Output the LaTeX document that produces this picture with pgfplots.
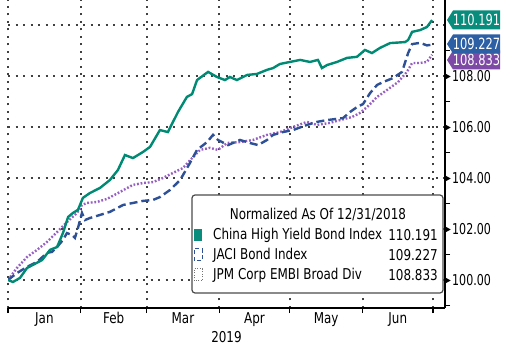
\documentclass[border=0pt]{standalone}
\usepackage{fontspec}
\setmainfont{DejaVu Sans}[FakeStretch=0.8]
\newfontfamily\tickfont{DejaVu Sans}[FakeStretch=0.74]
\usepackage{pgfplots}
\pgfplotsset{compat=1.18}
\definecolor{cteal}{RGB}{0,138,116}
\definecolor{cblue}{RGB}{45,80,150}
\definecolor{cpurp}{RGB}{150,95,195}
\definecolor{tteal}{RGB}{10,140,125}
\definecolor{tblue}{RGB}{45,95,165}
\definecolor{tpurp}{RGB}{125,75,165}
\newcommand{\tri}{\tikz[baseline=-0.6ex]\fill (0,-3bp)--(5.5bp,0)--(0,3bp)--cycle;}
\newcommand{\tagbox}[3]{%
  \fill[#1] (439,#2) -- (445,{#2+9.5}) -- (492,{#2+9.5}) -- (492,{#2-9.5}) -- (445,{#2-9.5}) -- cycle;
  \node[white, inner sep=0pt, font=\tickfont\fontsize{15.5}{17}\selectfont] at (468.5,#2) {#3};}

\pgfplotstableread{
x y
0 100.00
2.1 99.92
5.1 100.08
8.1 100.47
10.6 100.59
14.5 100.78
17.9 101.18
20.9 101.29
23.4 101.84
25.6 102.47
27.7 102.63
29.8 102.75
31.9 103.22
34.9 103.41
39.2 103.61
43.4 103.92
46.8 104.31
49.8 104.90
53.2 104.78
57.5 105.02
60.5 105.22
64.7 105.88
68.1 105.80
72.4 106.59
76.2 107.18
78.4 107.29
80.5 107.84
85.2 108.16
89.0 107.96
92.4 107.84
94.5 107.96
97.5 107.84
101.8 108.04
106.0 108.08
110.3 108.24
112.9 108.31
115.8 108.47
120.1 108.55
124.4 108.63
128.6 108.55
132.0 108.63
133.7 108.31
135.9 108.43
140.1 108.55
144.4 108.71
148.6 108.75
152.0 109.02
155.0 108.90
158.4 109.10
162.7 109.29
169.1 109.33
170.4 109.41
172.1 109.73
175.5 109.80
178.4 109.92
180.6 110.191
}\chinahy

\pgfplotstableread{
x y
0 100.00
3.8 100.27
8.1 100.51
12.4 100.71
16.6 101.06
18.7 101.10
20.9 101.29
23.4 101.57
25.1 101.84
27.3 101.76
28.5 101.65
29.8 102.04
31.5 102.63
32.8 102.35
34.9 102.43
39.2 102.55
43.4 102.67
49.0 102.94
53.2 103.02
57.5 103.10
61.8 103.14
64.7 103.25
69.0 103.53
73.3 103.92
77.5 104.59
80.5 105.10
84.8 105.41
87.3 105.69
89.4 105.49
93.7 105.29
98.8 105.49
103.1 105.37
106.5 105.29
110.3 105.49
112.9 105.69
117.1 105.80
121.4 105.88
127.3 106.08
131.6 106.20
135.9 106.27
142.7 106.35
145.7 106.59
148.6 106.78
151.2 106.90
154.2 107.33
157.2 107.65
159.7 107.76
164.0 107.92
167.8 108.16
170.4 108.90
172.1 109.25
175.5 109.30
178.4 109.20
180.6 109.227
}\jaci

\pgfplotstableread{
x y
0 100.00
3.8 100.47
8.1 100.90
12.4 101.18
16.6 101.49
20.9 101.88
25.1 102.27
29.4 102.63
31.5 102.94
33.6 103.02
37.9 103.06
42.2 103.18
47.7 103.45
53.2 103.73
57.5 103.80
61.8 103.84
66.0 104.00
70.3 104.20
74.5 104.39
78.8 104.82
81.8 105.10
86.0 105.18
89.4 105.10
93.3 105.37
98.8 105.41
104.3 105.49
110.3 105.69
115.8 105.80
121.4 106.00
127.3 106.20
131.6 106.08
137.1 106.16
141.4 106.27
146.5 106.39
149.9 106.55
152.9 106.78
157.2 107.18
161.4 107.45
166.1 107.76
169.9 108.16
172.1 108.51
175.5 108.51
178.4 108.55
180.6 108.833
}\jpm

\begin{document}
\begin{tikzpicture}[font=\fontsize{15}{17}\selectfont]
\begin{axis}[
  scale only axis, width=437bp, height=308bp,
  xmin=0, xmax=186.1, ymin=98.9, ymax=110.98,
  axis x line*=bottom, axis y line*=right,
  axis line style={line width=1.6bp, black},
  xtick={15.5,45,74.5,105,135.5,166},
  xticklabels={Jan,Feb,Mar,Apr,May,Jun},
  minor xtick={0,31,59,90,120,151,181},
  ytick={100,102,...,110},
  minor ytick={99,101,...,111},
  tick align=outside,
  major tick length=0pt, minor tick length=5bp,
  tick style={black, line width=1.2bp},
  xmajorgrids=false, xminorgrids=true, ymajorgrids=true, yminorgrids=false,
  major grid style={draw=black!75, line width=2bp, dash pattern=on 2bp off 5.5bp},
  minor grid style={draw=black!75, line width=2bp, dash pattern=on 2bp off 5.5bp},
  yticklabel={\ifdim\tick pt>109pt\else\tri\hspace{1.5bp}\pgfmathprintnumber[fixed,fixed zerofill,precision=2,assume math mode=true]{\tick}\fi},
  yticklabel style={anchor=west, inner sep=0pt, xshift=0bp, font=\tickfont\fontsize{15}{17}\selectfont},
  xticklabel style={inner sep=0pt, yshift=-4bp},
  xlabel={2019}, xlabel style={inner sep=0pt, yshift=-5bp},
]
\addplot[cpurp, line width=2.4bp, dash pattern=on 1.8bp off 1.8bp] table[x=x,y=y] {\jpm};
\addplot[cblue, line width=2.4bp, dash pattern=on 8bp off 4bp] table[x=x,y=y] {\jaci};
\addplot[cteal, line width=2.4bp] table[x=x,y=y] {\chinahy};
\end{axis}
\begin{scope}[x=1bp,y=1bp]
\draw[black!70, line width=1.2bp, fill=white, rounded corners=3bp] (184,15) rectangle (435,113);
\node at (310,93) {Normalized As Of 12/31/2018};
\fill[tteal] (186,67) rectangle (194,79);
\node[anchor=west, inner sep=0pt] at (205,73) {China High Yield Bond Index};
\node[anchor=east, inner sep=0pt] at (430,73) {110.191};
\draw[cblue, dash pattern=on 4bp off 2.5bp, line width=1bp] (186,47) rectangle (194,59);
\node[anchor=west, inner sep=0pt] at (205,53) {JACI Bond Index};
\node[anchor=east, inner sep=0pt] at (430,53) {109.227};
\draw[black!55, dash pattern=on 1bp off 1.5bp, line width=1bp] (186,27) rectangle (194,39);
\node[anchor=west, inner sep=0pt] at (205,33) {JPM Corp EMBI Broad Div};
\node[anchor=east, inner sep=0pt] at (430,33) {108.833};
\tagbox{tpurp}{248}{108.833}
\tagbox{tteal}{288}{110.191}
\tagbox{tblue}{264}{109.227}
\end{scope}
\pgfresetboundingbox
\path[use as bounding box] (-8bp,-46bp) rectangle (500bp,308bp);
\end{tikzpicture}
\end{document}
